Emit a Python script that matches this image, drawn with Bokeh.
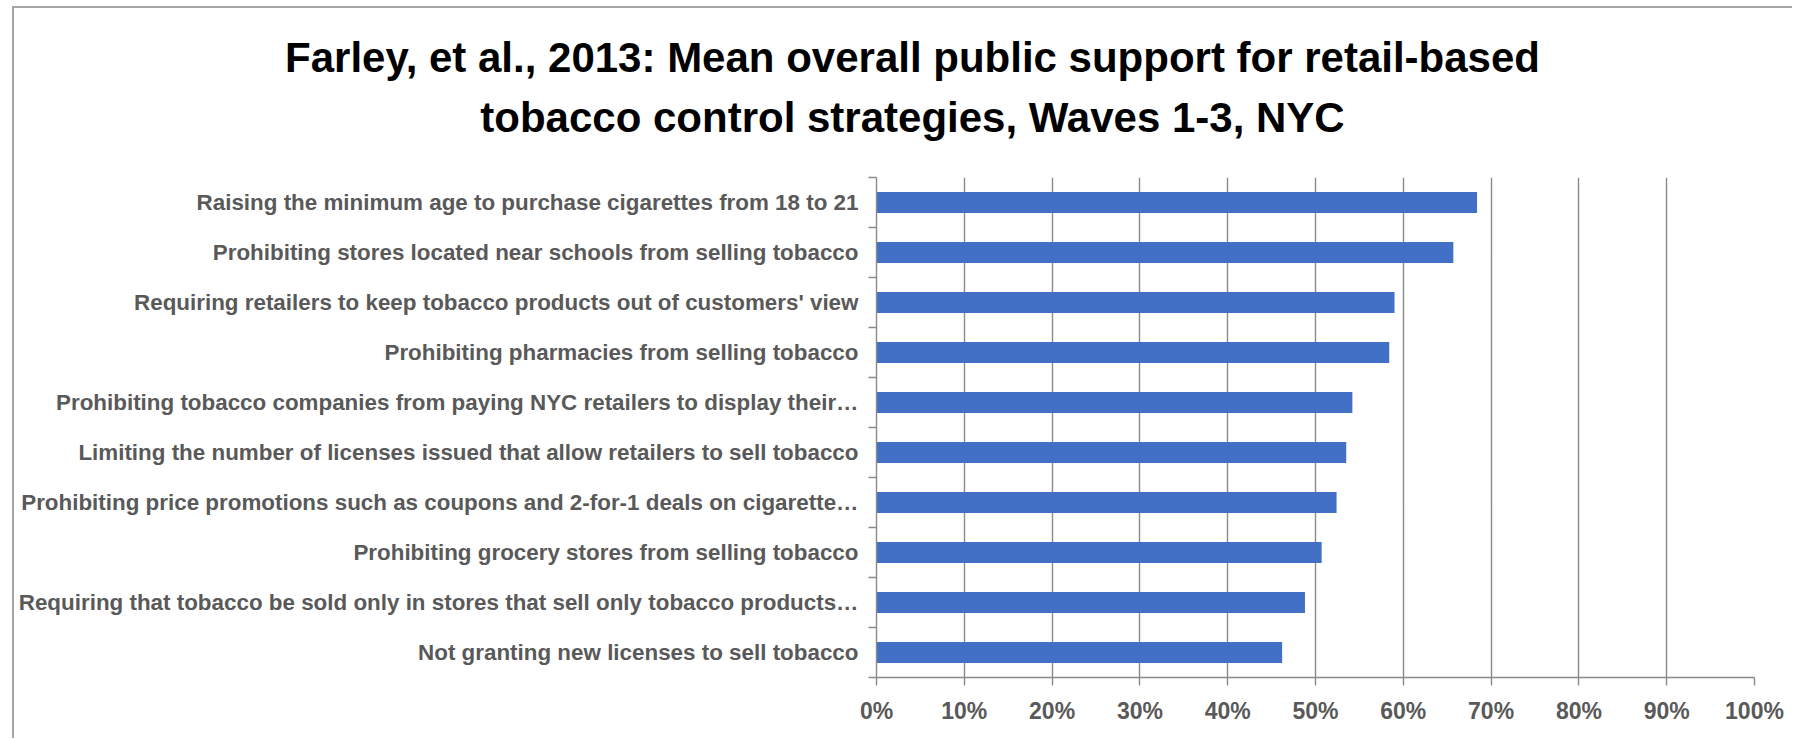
from bokeh.plotting import figure
from bokeh.models import Range1d, FixedTicker, NumeralTickFormatter, ColumnDataSource, Label
from bokeh.embed import file_html
from bokeh.resources import INLINE

# ---------------- data ----------------
title_lines = [
    "Farley, et al., 2013: Mean overall public support for retail-based",
    "tobacco control strategies, Waves 1-3, NYC",
]

strategies = [
    "Raising the minimum age to purchase cigarettes from 18 to 21",
    "Prohibiting stores located near schools from selling tobacco",
    "Requiring retailers to keep tobacco products out of customers' view",
    "Prohibiting pharmacies from selling tobacco",
    "Prohibiting tobacco companies from paying NYC retailers to display their…",
    "Limiting the number of licenses issued that allow retailers to sell tobacco",
    "Prohibiting price promotions such as coupons and 2-for-1 deals on cigarette…",
    "Prohibiting grocery stores from selling tobacco",
    "Requiring that tobacco be sold only in stores that sell only tobacco products…",
    "Not granting new licenses to sell tobacco",
]

support = [0.684, 0.657, 0.590, 0.584, 0.542, 0.535, 0.524, 0.507, 0.488, 0.462]

x_ticks = [0.0, 0.1, 0.2, 0.3, 0.4, 0.5, 0.6, 0.7, 0.8, 0.9, 1.0]

# ---------------- build ----------------
n = len(strategies)
ypos = [n - i - 0.5 for i in range(n)]          # category centres, first on top
boundaries = [float(i) for i in range(n + 1)]   # tick marks between categories

source = ColumnDataSource(dict(y=ypos, value=support, label=strategies))

FONT = "Liberation Sans"
GREY_TXT = "#595959"
GRID = "#8a8a8a"
FRAME = "2px solid #a6a6a6"

# --- title strip (its own figure so the text is not clipped by the chart frame)
tp = figure(
    width=1780, height=162,
    x_range=Range1d(0, 1), y_range=Range1d(0, 1),
    output_backend="svg", toolbar_location=None,
    x_axis_location=None, y_axis_location=None, min_border=0,
)
tp.outline_line_color = None
tp.xgrid.grid_line_color = None
tp.ygrid.grid_line_color = None
tp.styles = {"margin-left": "12px", "margin-top": "6px",
             "border-left": FRAME, "border-top": FRAME}
for txt, yb in zip(title_lines, [113, 53]):
    tp.add_layout(Label(
        x=898, y=yb, x_units="screen", y_units="screen", text=txt,
        text_align="center", text_baseline="alphabetic",
        text_font=FONT, text_font_style="bold",
        text_font_size="42px", text_color="#000000",
    ))

# --- bar chart
p = figure(
    width=1780, height=570,
    x_range=Range1d(0, 1), y_range=Range1d(0, n),
    output_backend="svg", toolbar_location=None,
    min_border_left=862, min_border_right=40,
    min_border_top=9, min_border_bottom=61,
)
p.outline_line_color = None
p.styles = {"margin-left": "12px", "border-left": FRAME}

p.hbar(y="y", left=0, right="value", height=0.42, source=source,
       fill_color="#4270c6", line_color=None)

xa = p.xaxis[0]
xa.ticker = FixedTicker(ticks=x_ticks, minor_ticks=[])
xa.formatter = NumeralTickFormatter(format="0%")
xa.axis_line_color = GRID
xa.axis_line_width = 1.4
xa.major_tick_line_color = GRID
xa.major_tick_line_width = 1.4
xa.major_tick_out = 8
xa.major_tick_in = 0
xa.minor_tick_line_color = None
xa.major_label_text_font = FONT
xa.major_label_text_font_style = "bold"
xa.major_label_text_font_size = "23px"
xa.major_label_text_color = GREY_TXT
xa.major_label_standoff = 12

ya = p.yaxis[0]
ya.ticker = FixedTicker(ticks=ypos, minor_ticks=boundaries)
ya.major_label_overrides = {y: s for y, s in zip(ypos, strategies)}
ya.axis_line_color = GRID
ya.axis_line_width = 1.4
ya.major_tick_line_color = None
ya.major_tick_out = 0
ya.major_tick_in = 0
ya.minor_tick_line_color = GRID
ya.minor_tick_line_width = 1.4
ya.minor_tick_out = 8
ya.minor_tick_in = 0
ya.major_label_text_font = FONT
ya.major_label_text_font_style = "bold"
ya.major_label_text_font_size = "22.4px"
ya.major_label_text_color = GREY_TXT
ya.major_label_standoff = 10

p.xgrid.ticker = FixedTicker(ticks=x_ticks)
p.xgrid.grid_line_color = GRID
p.xgrid.grid_line_width = 1.4
p.ygrid.grid_line_color = None

open("out.html", "w").write(file_html([tp, p], INLINE))
